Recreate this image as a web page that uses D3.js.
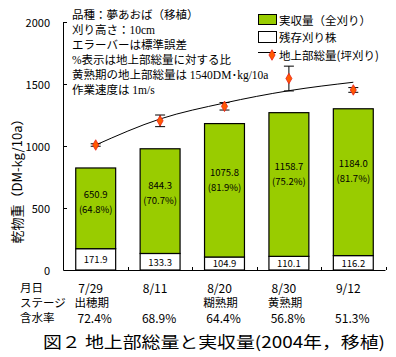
<!DOCTYPE html>
<html><head><meta charset="utf-8">
<script src="https://cdn.jsdelivr.net/npm/d3@7"></script>
<style>
body{margin:0;background:#fff;}
svg{display:block;}
text{fill:#000;}
</style></head>
<body>
<svg id="c" width="396" height="357"></svg>
<script>
const dates = ["7/29","8/11","8/20","8/30","9/12"];
const stages = ["出穂期","","糊熟期","黄熟期",""];
const moisture = ["72.4%","68.9%","64.4%","56.8%","51.3%"];
const stubble = [171.9,133.3,104.9,110.1,116.2];
const yieldVals = [650.9,844.3,1075.8,1158.7,1184.0];
const yieldPct = ["64.8%","70.7%","81.9%","75.2%","81.7%"];
const totalMean = [1008,1203,1320,1544,1452];
const totalSE = [10,47,30,100,19];
const fitCurve = [1008,1218,1347,1446,1514];
const yTicks = [0,500,1000,1500,2000];
const notes = ["品種：夢あおば（移植）","刈り高さ：10cm","エラーバーは標準誤差","%表示は地上部総量に対する比","黄熟期の地上部総量は 1540DM･kg/10a","作業速度は 1m/s"];
const legendLabels = ["実収量（全刈り）","残存刈り株","地上部総量(坪刈り)"];
const rowLabels = ["月日","ステージ","含水率"];
const title = "図２  地上部総量と実収量(2004年，移植)";
const yLabel = "乾物重（DM-kg/10a）";

const svg = d3.select("#c");
const FONT = "'Noto Sans CJK JP', sans-serif";
const SERIF = "'Liberation Serif', 'Noto Sans CJK JP', serif";
const green = "#99cc00";

const y = d3.scaleLinear().domain([0,2000]).range([270,22]);
const x = d3.scaleBand().domain(dates).range([63.5,385.5]).padding(0);
const bw = x.bandwidth()*0.62;
const cx = d => x(d)+x.bandwidth()/2;

// axes
svg.append("line").attr("x1",63.5).attr("x2",63.5).attr("y1",y(2000)).attr("y2",y(0)).attr("stroke","#000");
svg.append("line").attr("x1",63.5).attr("x2",385.5).attr("y1",y(0)+0.5).attr("y2",y(0)+0.5).attr("stroke","#000");
yTicks.forEach(t=>{
  svg.append("line").attr("x1",63.5).attr("x2",67).attr("y1",Math.round(y(t))+0.5).attr("y2",Math.round(y(t))+0.5).attr("stroke","#000");
  svg.append("text").attr("x",50).attr("y",y(t)).attr("text-anchor","end").attr("dominant-baseline","central")
    .style("font-family",FONT).style("font-size","11px").text(t);
});
dates.forEach(d=>{
  const xr = Math.round(x(d)+x.bandwidth())+0.5;
  svg.append("line").attr("x1",xr).attr("x2",xr).attr("y1",y(0)).attr("y2",y(0)-3).attr("stroke","#000");
});

// bars
const g = svg.append("g");
dates.forEach((d,i)=>{
  const x0 = cx(d)-bw/2;
  g.append("rect").attr("x",x0).attr("width",bw).attr("y",y(stubble[i])).attr("height",y(0)-y(stubble[i]))
    .attr("fill","#fff").attr("stroke","#000").attr("stroke-width",1.2);
  g.append("rect").attr("x",x0).attr("width",bw).attr("y",y(stubble[i]+yieldVals[i])).attr("height",y(stubble[i])-y(stubble[i]+yieldVals[i]))
    .attr("fill",green).attr("stroke","#000").attr("stroke-width",1.2);
  g.append("text").attr("x",cx(d)).attr("y",y(stubble[i]/2)).attr("text-anchor","middle").attr("dominant-baseline","central")
    .style("font-family",FONT).style("font-size","9.5px").text(stubble[i].toFixed(1));
  const mid = y(stubble[i]+yieldVals[i]*0.58);
  g.append("text").attr("x",cx(d)).attr("y",mid-7.5).attr("text-anchor","middle").attr("dominant-baseline","central")
    .style("font-family",FONT).style("font-size","9.5px").text(yieldVals[i].toFixed(1));
  g.append("text").attr("x",cx(d)).attr("y",mid+7.5).attr("text-anchor","middle").attr("dominant-baseline","central")
    .style("font-family",FONT).style("font-size","9.5px").text("("+yieldPct[i]+")");
});

// fit line
const line = d3.line().x((v,i)=>cx(dates[i])).y(v=>y(v)).curve(d3.curveMonotoneX);
svg.append("path").attr("d",line(fitCurve)).attr("fill","none").attr("stroke","#000").attr("stroke-width",1);

// error bars and markers
const sym = d3.symbol().type(d3.symbolDiamond).size(32);
dates.forEach((d,i)=>{
  const xc = cx(d);
  const top = y(totalMean[i]+totalSE[i]), bot = y(totalMean[i]-totalSE[i]);
  svg.append("line").attr("x1",xc).attr("x2",xc).attr("y1",top).attr("y2",bot).attr("stroke","#000");
  [top,bot].forEach(yy=>svg.append("line").attr("x1",xc-5).attr("x2",xc+5).attr("y1",yy).attr("y2",yy).attr("stroke","#000"));
  svg.append("path").attr("d",sym()).attr("transform",`translate(${xc},${y(totalMean[i])})`).attr("fill","#ff5a00").attr("stroke","#e8201a").attr("stroke-width",0.8);
});

// notes
notes.forEach((t,i)=>{
  svg.append("text").attr("x",72).attr("y",15+15*i).attr("dominant-baseline","central")
    .style("font-family",SERIF).style("font-size","11.5px").text(t);
});

// legend
svg.append("rect").attr("x",258.5).attr("y",14.5).attr("width",18).attr("height",10).attr("fill",green).attr("stroke","#000");
svg.append("rect").attr("x",258.5).attr("y",31.5).attr("width",18).attr("height",11).attr("fill","#fff").attr("stroke","#000");
svg.append("line").attr("x1",258).attr("x2",276).attr("y1",52.5).attr("y2",52.5).attr("stroke","#000");
svg.append("path").attr("d",sym()).attr("transform","translate(272,55)").attr("fill","#ff5a00").attr("stroke","#e8201a").attr("stroke-width",0.8);
[20,37,55].forEach((yy,i)=>{
  svg.append("text").attr("x",279).attr("y",yy).attr("dominant-baseline","central")
    .style("font-family",FONT).style("font-size","11.5px").text(legendLabels[i]);
});

// y label
svg.append("text").attr("transform","translate(16,178) rotate(-90)").attr("text-anchor","middle").attr("dominant-baseline","central")
  .style("font-family",FONT).style("font-size","13px").text(yLabel);

// bottom rows
[287,302,317].forEach((yy,i)=>{
  svg.append("text").attr("x",20).attr("y",yy).attr("dominant-baseline","central")
    .style("font-family",FONT).style("font-size","11.5px").text(rowLabels[i]);
});
dates.forEach((d,i)=>{
  svg.append("text").attr("x",cx(d)-5).attr("y",287).attr("text-anchor","middle").attr("dominant-baseline","central")
    .style("font-family",FONT).style("font-size","12px").text(d);
  svg.append("text").attr("x",cx(d)-4).attr("y",302).attr("text-anchor","middle").attr("dominant-baseline","central")
    .style("font-family",FONT).style("font-size","11.5px").text(stages[i]);
  svg.append("text").attr("x",cx(d)-1).attr("y",317).attr("text-anchor","middle").attr("dominant-baseline","central")
    .style("font-family",FONT).style("font-size","12px").text(moisture[i]);
});

// title
svg.append("text").attr("x",43).attr("y",341).attr("dominant-baseline","central")
  .attr("textLength",342).attr("lengthAdjust","spacingAndGlyphs")
  .style("font-family",FONT).style("font-size","16px").text(title);
</script>
</body></html>
